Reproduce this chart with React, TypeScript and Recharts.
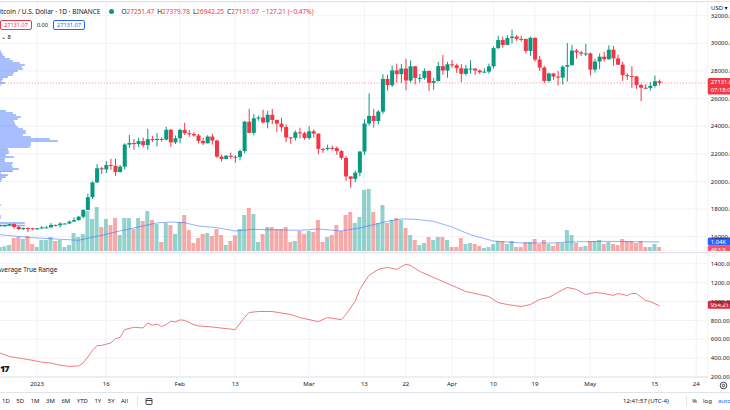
import React from "react";
import {
  ComposedChart,
  Bar,
  Line,
  XAxis,
  YAxis,
  CartesianGrid,
  ReferenceLine,
  ReferenceArea,
  Cell,
} from "recharts";

const FONT = "'Noto Sans', 'DejaVu Sans', sans-serif";
const UP = "#089981";
const DOWN = "#f23645";
const TEXT = "#131722";
const GRID = "#f0f2f6";

// day index: 0 = 1 Jan 2023, first candle is 24 Dec 2022 (-8), axis runs to 145
const firstDay = -8;
const lastDay = 145;

// daily candles [open, high, low, close], 24 Dec 2022 .. 16 May 2023
const candles: [number, number, number, number][] = [
  [16778, 16869, 16760, 16832], [16832, 16866, 16714, 16839], [16839, 16939, 16786, 16917], [16917, 16973, 16592, 16707],
  [16707, 16785, 16465, 16547], [16547, 16664, 16488, 16633], [16633, 16677, 16333, 16607], [16607, 16644, 16470, 16542],
  // Jan
  [16542, 16631, 16499, 16616], [16617, 16760, 16548, 16673], [16673, 16780, 16604, 16674], [16674, 16990, 16659, 16852],
  [16852, 16877, 16752, 16831], [16831, 17041, 16679, 16951], [16951, 16969, 16908, 16955], [16955, 17176, 16911, 17091],
  [17091, 17398, 17091, 17197], [17197, 17499, 17160, 17446], [17446, 17992, 17320, 17935], [17935, 19117, 17915, 18859],
  [18859, 19992, 18720, 19930], [19930, 21258, 19888, 20954], [20954, 21050, 20551, 20871], [20871, 21473, 20611, 21186],
  [21186, 21647, 20839, 21132], [21132, 21650, 20407, 20677], [20677, 21186, 20661, 21071], [21071, 22755, 20861, 22667],
  [22667, 23371, 22422, 22783], [22783, 23078, 22292, 22707], [22707, 23162, 22500, 22916], [22916, 23180, 22462, 22632],
  [22632, 23816, 22292, 23060], [23060, 23282, 22850, 23009], [23009, 23500, 22534, 23074], [23074, 23189, 22878, 23022],
  [23022, 23960, 22980, 23742], [23742, 23800, 22500, 22827], [22827, 23320, 22715, 23125],
  // Feb
  [23125, 23812, 22760, 23732], [23732, 24255, 23363, 23488], [23488, 23715, 23206, 23431], [23431, 23587, 23253, 23326],
  [23326, 23433, 22745, 22933], [22933, 23158, 22629, 22762], [22762, 23350, 22745, 23249], [23249, 23452, 22665, 22963],
  [22963, 23011, 21688, 21796], [21796, 21938, 21451, 21625], [21625, 21906, 21599, 21862], [21862, 22090, 21631, 21783],
  [21783, 21894, 21351, 21773], [21773, 22319, 21531, 22199], [22199, 24380, 22047, 24324], [24324, 25250, 23505, 23517],
  [23517, 24872, 23339, 24570], [24570, 24750, 24400, 24631], [24631, 25191, 24192, 24271], [24271, 25121, 23840, 24828],
  [24828, 25250, 24148, 24450], [24450, 24476, 23574, 24188], [24188, 24600, 23608, 23940], [23940, 24132, 22841, 23185],
  [23185, 23219, 22722, 23157], [23157, 23689, 22950, 23554], [23554, 23880, 23106, 23492], [23492, 23600, 23020, 23141],
  // Mar
  [23141, 24000, 23020, 23628], [23628, 23780, 23195, 23465], [23465, 23476, 21971, 22354], [22354, 22410, 22066, 22346],
  [22346, 22662, 22247, 22430], [22430, 22602, 22258, 22410], [22410, 22534, 21927, 22197], [22197, 22268, 21580, 21705],
  [21705, 21834, 20042, 20362], [20362, 20367, 19549, 20187], [20187, 20792, 19949, 20632], [20632, 22185, 20365, 22163],
  [22163, 24500, 21918, 24197], [24197, 26386, 24044, 24746], [24746, 25250, 23896, 24375], [24375, 25167, 24124, 25055],
  [25055, 27756, 24890, 27423], [27423, 27725, 26578, 26965], [26965, 28390, 26827, 28038], [28038, 28528, 27156, 27767],
  [27767, 28500, 27124, 28175], [28175, 28868, 26601, 27307], [27307, 28754, 27155, 28333], [28333, 28369, 27024, 27493],
  [27493, 27785, 27163, 27494], [27494, 28194, 27367, 27994], [27994, 28044, 26555, 27139], [27139, 27500, 26631, 27268],
  [27268, 28650, 27240, 28348], [28348, 29159, 27720, 28028], [28028, 28656, 27500, 28478],
  // Apr
  [28478, 28803, 28228, 28411], [28411, 28530, 27856, 28199], [28199, 28500, 27200, 27790], [27790, 28444, 27662, 28169],
  [28169, 28775, 27805, 28175], [28175, 28190, 27711, 28033], [28033, 28100, 27766, 27906], [27906, 28179, 27865, 27948],
  [27948, 28530, 27800, 28333], [28333, 29770, 28170, 29652], [29652, 30550, 29590, 30235], [30235, 30486, 29685, 29880],
  [29880, 30595, 29866, 30383], [30383, 31000, 29966, 30485], [30485, 30610, 30184, 30318], [30318, 30549, 30124, 30315],
  [30315, 30320, 29266, 29445], [29445, 30485, 29090, 30397], [30397, 30411, 28669, 28822], [28822, 29095, 28010, 28245],
  [28245, 28374, 27125, 27276], [27276, 27877, 27175, 27817], [27817, 27820, 27368, 27591], [27591, 28000, 26942, 27514],
  [27514, 28400, 27020, 28307], [28307, 30020, 27235, 28422], [28422, 29890, 28380, 29473], [29473, 29599, 28892, 29341],
  [29341, 29454, 29088, 29248], [29248, 29969, 29080, 29268],
  // May
  [29268, 29338, 27680, 28092], [28092, 28879, 27872, 28681], [28681, 29266, 28120, 29031], [29031, 29376, 28688, 28848],
  [28848, 29850, 28820, 29538], [29538, 29820, 28378, 28905], [28905, 29178, 28430, 28454], [28454, 28666, 27277, 27694],
  [27694, 27832, 27350, 27627], [27627, 28336, 26777, 27598], [27598, 27655, 26707, 26980], [26980, 27064, 25811, 26785],
  [26785, 27040, 26705, 26774], [26774, 27200, 26571, 26917], [26917, 27663, 26800, 27251],
  [27251.47, 27379.78, 26942.25, 27131.07],
];

// volume in thousands, same days as candles
const volumes = [
  0.46, 0.54, 0.69, 1.49, 1.61, 1.38, 1.72, 0.8,
  0.46, 1.26, 1.26, 1.61, 1.15, 1.26, 0.46, 0.69, 2.07, 1.61, 1.95, 4.6, 3.68, 5.06, 2.76, 3.68,
  2.99, 3.79, 1.84, 3.79, 3.79, 2.53, 3.79, 3.45, 4.6, 3.56, 3.1, 1.03, 3.22, 2.99, 1.95,
  3.33, 4.14, 2.41, 0.92, 1.49, 1.95, 2.07, 1.72, 2.53, 1.84, 0.69, 1.15, 1.8, 2.53, 4.14, 4.94,
  4.25, 1.03, 1.95, 2.76, 2.76, 2.53, 2.53, 2.76, 1.03, 1.15, 2.3, 1.95,
  2.3, 2.18, 3.56, 1.03, 1.61, 1.84, 2.99, 2.3, 4.14, 4.48, 3.22, 3.91, 7.01, 7.13, 4.48, 3.22,
  5.29, 3.22, 3.56, 3.79, 3.56, 2.64, 1.84, 1.26, 0.69, 0.92, 1.61, 1.26, 1.61, 1.61, 1.26,
  0.46, 0.46, 1.49, 0.8, 0.92, 0.8, 0.57, 0.34, 0.46, 0.8, 1.15, 1.15, 0.8, 1.15, 0.46, 0.46,
  1.03, 1.03, 1.38, 0.8, 1.26, 0.8, 0.57, 0.92, 0.92, 2.41, 1.84, 0.92, 0.46, 0.57,
  1.15, 1.15, 1.26, 0.8, 1.03, 0.8, 0.69, 1.38, 1.15, 1.15, 0.92, 1.15, 0.46, 0.46, 0.8, 0.46,
];

// 20-day volume moving average, [day, thousands]
const volumeMa: [number, number][] = [
  [-8, 1.87], [-1, 1.53], [3, 1.41], [9, 1.23], [14, 1.8], [17, 2.18], [22, 2.76], [26, 3.22],
  [29, 3.33], [32, 3.25], [35, 2.87], [39, 2.68], [43, 2.3], [47, 2.49], [50, 2.45], [57, 2.38],
  [61, 2.53], [66, 2.3], [70, 2.64], [73, 3.02], [76, 3.41], [79, 3.68], [82, 3.64], [86, 3.41],
  [90, 2.76], [94, 1.87], [99, 1.15], [105, 0.92], [112, 0.92], [115, 1.03], [123, 1.11], [130, 1.06],
  [135, 1.04],
];

// Average True Range, [day, value]
const atrPoints: [number, number][] = [
  [-8, 454], [-6, 418], [-4, 401], [-2, 386], [1, 358], [3, 348], [5, 325], [7, 312], [9, 318],
  [10, 348], [11, 410], [12, 480], [13, 532], [14, 535], [16, 560], [17, 606], [18, 620], [19, 702],
  [21, 727], [23, 720], [24, 773], [25, 748], [26, 762], [27, 734], [28, 755], [29, 790], [30, 784],
  [31, 805], [32, 801], [34, 755], [35, 741], [38, 730], [43, 702], [45, 830], [46, 883], [48, 894],
  [51, 894], [55, 862], [57, 830], [59, 808], [61, 787], [63, 830], [66, 808], [67, 862], [69, 1000],
  [70, 1128], [72, 1277], [74, 1340], [76, 1362], [78, 1340], [80, 1394], [81, 1383], [83, 1319],
  [85, 1277], [87, 1234], [91, 1149], [93, 1106], [96, 1074], [98, 1053], [100, 989], [102, 968],
  [105, 947], [107, 968], [109, 1021], [111, 1043], [113, 1096], [115, 1149], [117, 1128], [119, 1074],
  [121, 1096], [123, 1085], [125, 1064], [126, 1085], [128, 1064], [129, 1085], [130, 1085],
  [132, 1011], [133, 1000], [135, 954.21],
];

// visible range volume profile rows, [price, volume]
const profileRows: [number, number][] = [
  [29445, 3], [29300, 4], [29155, 5], [29010, 7], [28865, 12], [28720, 15], [28575, 22], [28430, 27],
  [28285, 24], [28140, 25], [27995, 20], [27850, 16], [27705, 15], [27560, 10], [27415, 5], [27270, 4],
  [27125, 7], [26980, 3], [26835, 2],
  [25100, 8], [24955, 15], [24810, 18], [24665, 23], [24520, 20], [24375, 16], [24230, 17], [24085, 18],
  [23940, 20], [23795, 25], [23650, 28], [23505, 28], [23360, 25], [23215, 33], [23070, 52], [22925, 60],
  [22780, 33], [22635, 33], [22490, 32], [22345, 10], [22200, 11], [22055, 11], [21910, 8], [21765, 16],
  [21620, 7], [21475, 7], [21330, 15], [21185, 14], [21040, 15], [20895, 21], [20750, 15], [20605, 3],
  [20460, 10], [20315, 8], [20170, 4], [20025, 3],
  [18295, 3], [17500, 3], [17355, 3], [16990, 27], [16810, 27],
];

const priceTicks = [16000, 18000, 20000, 22000, 24000, 26000, 28000, 30000, 32000];
const atrTicks = [200, 400, 600, 800, 1000, 1200, 1400];
const dateTicks = [0, 15, 31, 43, 59, 71, 80, 90, 99, 108, 120, 134, 143];
const dateTickLabels = ["2023", "16", "Feb", "13", "Mar", "13", "22", "Apr", "10", "19", "May", "15", "24"];

const lastPrice = 27131.07;
const lastVolumeMa = 1.04;
const lastAtr = 954.21;

const maByDay = new Map(volumeMa);
const atrByDay = new Map(atrPoints);

const rows = [];
for (let d = firstDay; d <= lastDay; d++) {
  const c = candles[d - firstDay];
  rows.push({
    d,
    hl: c ? [c[2], c[1]] : null,
    open: c ? c[0] : null,
    high: c ? c[1] : null,
    low: c ? c[2] : null,
    close: c ? c[3] : null,
    vol: c ? volumes[d - firstDay] : null,
    volMa: maByDay.has(d) ? maByDay.get(d) : null,
    atr: atrByDay.has(d) ? atrByDay.get(d) : null,
  });
}

const PLOT_LEFT = -2.19;
const AXIS_W = 22.2;

function Candle(props: any) {
  const { x, y, width, height, payload } = props;
  if (!payload || payload.open == null || height == null) return null;
  const { open, high, low, close } = payload;
  const top = Math.min(y, y + height);
  const span = Math.abs(height);
  const k = high === low ? 0 : span / (high - low);
  const yo = top + (high - open) * k;
  const yc = top + (high - close) * k;
  const color = close >= open ? UP : DOWN;
  const cx = x + width / 2;
  return (
    <g>
      <line x1={cx} x2={cx} y1={top} y2={top + span} stroke={color} strokeWidth={1} />
      <rect x={x} y={Math.min(yo, yc)} width={width} height={Math.max(1, Math.abs(yc - yo))} fill={color} />
    </g>
  );
}

function AxisTag(props: any) {
  const { viewBox, lines, bg, offset = 5, lineH = 8 } = props;
  if (!viewBox) return null;
  const x = viewBox.x + viewBox.width;
  const y = viewBox.y - offset;
  return (
    <g>
      <rect x={x} y={y} width={40} height={lines.length * lineH + 0.5} fill={bg} rx={1.5} />
      {lines.map((t: string, i: number) => (
        <text key={i} x={x + 3} y={y + 6 + i * lineH} fontSize={5.8} fill="#fff" fontFamily={FONT}>
          {t}
        </text>
      ))}
    </g>
  );
}

function VolumeTags(props: any) {
  const { viewBox } = props;
  if (!viewBox) return null;
  const x = viewBox.x + viewBox.width;
  const y = viewBox.y;
  return (
    <g>
      <rect x={x} y={y + 3.5} width={40} height={8} fill="#f7525f" rx={1.5} />
      <text x={x + 3} y={y + 9.6} fontSize={5.8} fill="#fff" fontFamily={FONT}>463.9</text>
      <rect x={x} y={y - 4.5} width={40} height={8} fill="#2962ff" rx={1.5} />
      <text x={x + 3} y={y + 1.6} fontSize={5.8} fill="#fff" fontFamily={FONT}>1.04K</text>
    </g>
  );
}

const axisTick = { fontSize: 6, fill: TEXT, fontFamily: FONT };

export default function App() {
  const last = candles[candles.length - 1];
  const legendItem = (label: string, value: number) => (
    <span style={{ marginRight: 3 }}>
      {label}
      <span style={{ color: DOWN }}>{value.toFixed(2)}</span>
    </span>
  );

  return (
    <div
      style={{
        position: "relative",
        width: 730,
        height: 410,
        background: "#fff",
        overflow: "hidden",
        fontFamily: FONT,
        color: TEXT,
      }}
    >
      <style>{"body{margin:0}"}</style>

      <div style={{ position: "absolute", left: 0, top: 1, width: 730, height: 1, background: "#e0e3eb" }} />

      {/* price pane with volume and volume profile */}
      <div style={{ position: "absolute", left: 0, top: 2 }}>
        <ComposedChart
          width={730}
          height={249}
          data={rows}
          margin={{ top: 0, right: 0, bottom: 0, left: PLOT_LEFT }}
          barCategoryGap="10%"
        >
          <XAxis xAxisId={0} dataKey="d" type="number" domain={[firstDay - 0.5, lastDay + 0.5]} ticks={dateTicks} allowDataOverflow hide />
          <XAxis xAxisId="c" dataKey="d" type="category" hide />
          <XAxis xAxisId="v" dataKey="d" type="category" hide />
          <XAxis xAxisId="vp" dataKey="profileVolume" type="number" domain={[0, 710]} allowDataOverflow hide />
          <YAxis
            yAxisId={0}
            orientation="right"
            width={AXIS_W}
            domain={[14964, 32990]}
            allowDataOverflow
            ticks={priceTicks}
            tickFormatter={(v: number) => v.toFixed(2)}
            tick={axisTick}
            tickLine={false}
            axisLine={false}
            tickSize={0}
            tickMargin={3}
          />
          <YAxis yAxisId="v" domain={[0, 28.6]} allowDataOverflow hide />
          <CartesianGrid stroke={GRID} />

          {profileRows.map(([p, w], i) => (
            <ReferenceArea
              key={i}
              xAxisId="vp"
              yAxisId={0}
              x1={0}
              x2={w}
              y1={p - 58}
              y2={p + 58}
              fill="#2962ff"
              fillOpacity={0.55}
              stroke="none"
              ifOverflow="visible"
            />
          ))}

          <Bar xAxisId="v" yAxisId="v" dataKey="vol" barSize={4} isAnimationActive={false}>
            {rows.map((r, i) => (
              <Cell
                key={i}
                fill={r.close != null && r.close >= r.open ? "#26a69a" : "#ef5350"}
                fillOpacity={0.5}
              />
            ))}
          </Bar>
          <Line
            xAxisId={0}
            yAxisId="v"
            dataKey="volMa"
            type="linear"
            stroke="#2962ff"
            strokeOpacity={0.5}
            strokeWidth={1}
            dot={false}
            connectNulls
            isAnimationActive={false}
          />
          <Bar xAxisId="c" yAxisId={0} dataKey="hl" shape={<Candle />} isAnimationActive={false} />

          <ReferenceLine
            yAxisId={0}
            y={lastPrice}
            stroke={DOWN}
            strokeOpacity={0.6}
            strokeDasharray="1 2"
            label={<AxisTag lines={[lastPrice.toFixed(2), "07:18:03"]} bg={DOWN} />}
          />
          <ReferenceLine yAxisId="v" y={lastVolumeMa} stroke="none" label={<VolumeTags />} />
        </ComposedChart>
      </div>

      <div style={{ position: "absolute", left: 0, top: 252, width: 730, height: 1, background: "#e0e3eb" }} />

      {/* ATR pane and time axis */}
      <div style={{ position: "absolute", left: 0, top: 253 }}>
        <ComposedChart width={730} height={139} data={rows} margin={{ top: 0, right: 0, bottom: 0, left: PLOT_LEFT }}>
          <XAxis
            xAxisId={0}
            dataKey="d"
            type="number"
            domain={[firstDay - 0.5, lastDay + 0.5]}
            allowDataOverflow
            ticks={dateTicks}
            interval={0}
            tickFormatter={(v: number) => dateTickLabels[dateTicks.indexOf(v)]}
            tick={axisTick}
            tickLine={false}
            axisLine={{ stroke: "#e0e3eb" }}
            tickSize={0}
            tickMargin={5}
            height={15}
          />
          <YAxis
            yAxisId={0}
            orientation="right"
            width={AXIS_W}
            domain={[200, 1514]}
            allowDataOverflow
            ticks={atrTicks}
            interval={0}
            tickFormatter={(v: number) => v.toFixed(2)}
            tick={axisTick}
            tickLine={false}
            axisLine={false}
            tickSize={0}
            tickMargin={3}
          />
          <CartesianGrid stroke={GRID} />
          <Line
            dataKey="atr"
            type="linear"
            stroke="#ef7b7d"
            strokeWidth={1}
            dot={false}
            connectNulls
            isAnimationActive={false}
          />
          <ReferenceLine
            y={lastAtr}
            stroke="none"
            label={<AxisTag lines={[lastAtr.toFixed(2)]} bg="#d8323c" offset={3} lineH={7.5} />}
          />
        </ComposedChart>
      </div>

      {/* legend */}
      <div style={{ position: "absolute", left: -5, top: 7, fontSize: 6.5, whiteSpace: "nowrap", display: "flex", alignItems: "center" }}>
        <span>Bitcoin / U.S. Dollar · 1D · BINANCE</span>
        <span style={{ display: "inline-block", width: 5, height: 5, borderRadius: 3, background: UP, margin: "0 7px 0 9px" }} />
        {legendItem("O", last[0])}
        {legendItem("H", last[1])}
        {legendItem("L", last[2])}
        {legendItem("C", last[3])}
        <span style={{ color: DOWN }}>−127.21 (−0.47%)</span>
      </div>
      <div style={{ position: "absolute", left: 0, top: 20, fontSize: 5.6, display: "flex", alignItems: "center", whiteSpace: "nowrap" }}>
        <span style={{ border: `1px solid ${DOWN}`, color: DOWN, borderRadius: 2, padding: "0 3px", lineHeight: "8px" }}>27131.07</span>
        <span style={{ margin: "0 5px", color: TEXT }}>0.00</span>
        <span style={{ border: "1px solid #2962ff", color: "#2962ff", borderRadius: 2, padding: "0 3px", lineHeight: "8px" }}>27131.07</span>
      </div>
      <div style={{ position: "absolute", left: 1, top: 33, fontSize: 6, whiteSpace: "nowrap" }}>⌄ 8</div>
      <div style={{ position: "absolute", left: 711, top: 4, fontSize: 6, whiteSpace: "nowrap", background: "#fff" }}>USD ▾</div>
      <div style={{ position: "absolute", left: -3, top: 265, fontSize: 6.4, whiteSpace: "nowrap" }}>Average True Range</div>
      <div style={{ position: "absolute", left: 0, top: 362, fontSize: 9, fontWeight: 900, letterSpacing: -1 }}>17</div>
      <svg style={{ position: "absolute", left: 719, top: 381 }} width={9} height={9}>
        <circle cx={4.5} cy={4.5} r={3.3} fill="none" stroke={TEXT} strokeWidth={0.8} />
        <circle cx={4.5} cy={4.5} r={1.2} fill="none" stroke={TEXT} strokeWidth={0.8} />
      </svg>

      {/* bottom toolbar */}
      <div style={{ position: "absolute", left: 0, top: 392, width: 730, height: 1, background: "#e0e3eb" }} />
      <div style={{ position: "absolute", left: 2, top: 397, fontSize: 6, whiteSpace: "nowrap", display: "flex", gap: 6.5 }}>
        {["1D", "5D", "1M", "3M", "6M", "YTD", "1Y", "5Y", "All"].map((t) => (
          <span key={t}>{t}</span>
        ))}
      </div>
      <div style={{ position: "absolute", left: 137, top: 396, width: 1, height: 10, background: "#e0e3eb" }} />
      <svg style={{ position: "absolute", left: 145, top: 397 }} width={9} height={9}>
        <rect x={1} y={1.5} width={6} height={6} fill="none" stroke={TEXT} strokeWidth={0.8} rx={1} />
        <line x1={1} x2={7} y1={3.5} y2={3.5} stroke={TEXT} strokeWidth={0.8} />
      </svg>
      <div style={{ position: "absolute", left: 623, top: 397, fontSize: 6, whiteSpace: "nowrap" }}>12:41:57 (UTC-4)</div>
      <div style={{ position: "absolute", left: 686, top: 396, width: 1, height: 10, background: "#e0e3eb" }} />
      <div style={{ position: "absolute", left: 692, top: 397, fontSize: 6, whiteSpace: "nowrap" }}>%</div>
      <div style={{ position: "absolute", left: 703, top: 397, fontSize: 6, whiteSpace: "nowrap" }}>log</div>
      <div style={{ position: "absolute", left: 718, top: 397, fontSize: 6, whiteSpace: "nowrap", color: "#2962ff" }}>auto</div>
    </div>
  );
}
